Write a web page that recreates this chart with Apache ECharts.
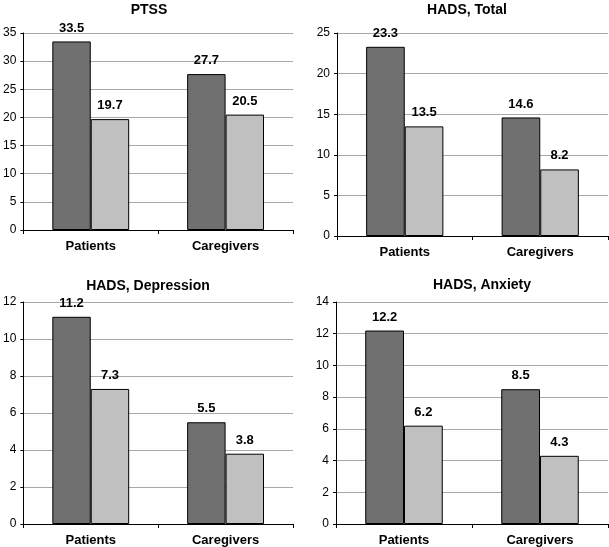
<!DOCTYPE html>
<html>
<head>
<meta charset="utf-8">
<script src="https://cdn.jsdelivr.net/npm/echarts@6/dist/echarts.min.js"></script>
<style>html,body{margin:0;padding:0;background:#fff}#c{width:609px;height:547px}</style>
</head>
<body>
<div id="c"></div>
<script>
var categories = ['Patients', 'Caregivers'];
var titles = ['PTSS', 'HADS, Total', 'HADS, Depression', 'HADS, Anxiety'];
var ptssDark = [33.5, 27.7];
var ptssLight = [19.7, 20.5];
var totalDark = [23.3, 14.6];
var totalLight = [13.5, 8.2];
var deprDark = [11.2, 5.5];
var deprLight = [7.3, 3.8];
var anxDark = [12.2, 8.5];
var anxLight = [6.2, 4.3];
var yMax = [35, 25, 12, 14];
var yStep = [5, 5, 2, 2];

var darkSets = [ptssDark, totalDark, deprDark, anxDark];
var lightSets = [ptssLight, totalLight, deprLight, anxLight];

var grids = [
  {left: 21, top: 33, width: 272, height: 197},
  {left: 337, top: 33, width: 271, height: 203},
  {left: 21, top: 302, width: 272, height: 224},
  {left: 336, top: 302, width: 272, height: 224}
];
var titlePos = [
  {left: 149, top: 3},
  {left: 467, top: 3},
  {left: 148, top: 279},
  {left: 482, top: 278}
];
var FONT = '"Liberation Sans", Arial, sans-serif';

var option = {
  backgroundColor: '#fff',
  animation: false,
  title: titles.map(function (t, i) {
    return {
      text: t, left: titlePos[i].left, top: titlePos[i].top, textAlign: 'center', padding: 0,
      textStyle: {fontFamily: FONT, fontSize: 14, fontWeight: 'bold', color: '#000'}
    };
  }),
  grid: grids.map(function (g) {
    return {left: g.left, top: g.top, width: g.width, height: g.height, containLabel: false};
  }),
  xAxis: grids.map(function (g, i) {
    return {
      type: 'category', gridIndex: i, data: categories,
      axisLine: {lineStyle: {color: '#000', width: 1}},
      axisTick: {show: true, length: 4, lineStyle: {color: '#000'}},
      axisLabel: {fontFamily: FONT, fontSize: 13, fontWeight: 'bold', color: '#000', margin: 10}
    };
  }),
  yAxis: grids.map(function (g, i) {
    return {
      type: 'value', gridIndex: i, min: 0, max: yMax[i], interval: yStep[i],
      axisLine: {show: true, lineStyle: {color: '#000', width: 1}},
      axisTick: {show: true, length: 3, lineStyle: {color: '#000'}},
      axisLabel: {fontFamily: FONT, fontSize: 12, color: '#000', margin: 7},
      splitLine: {show: true, lineStyle: {color: '#a8a8a8', width: 1}}
    };
  }),
  series: []
};

for (var i = 0; i < 4; i++) {
  [darkSets[i], lightSets[i]].forEach(function (data, k) {
    option.series.push({
      type: 'bar', xAxisIndex: i, yAxisIndex: i, data: data,
      barGap: '0%', barCategoryGap: '43%',
      itemStyle: {color: k === 0 ? '#707070' : '#c0c0c0', borderColor: '#000', borderWidth: 1},
      label: {
        show: true, position: 'top', distance: 7,
        fontFamily: FONT, fontSize: 13, fontWeight: 'bold', color: '#000',
        formatter: function (p) { return p.value.toFixed(1); }
      }
    });
  });
}

var chart = echarts.init(document.getElementById('c'), null, {renderer: 'canvas'});
chart.setOption(option);
</script>
</body>
</html>
